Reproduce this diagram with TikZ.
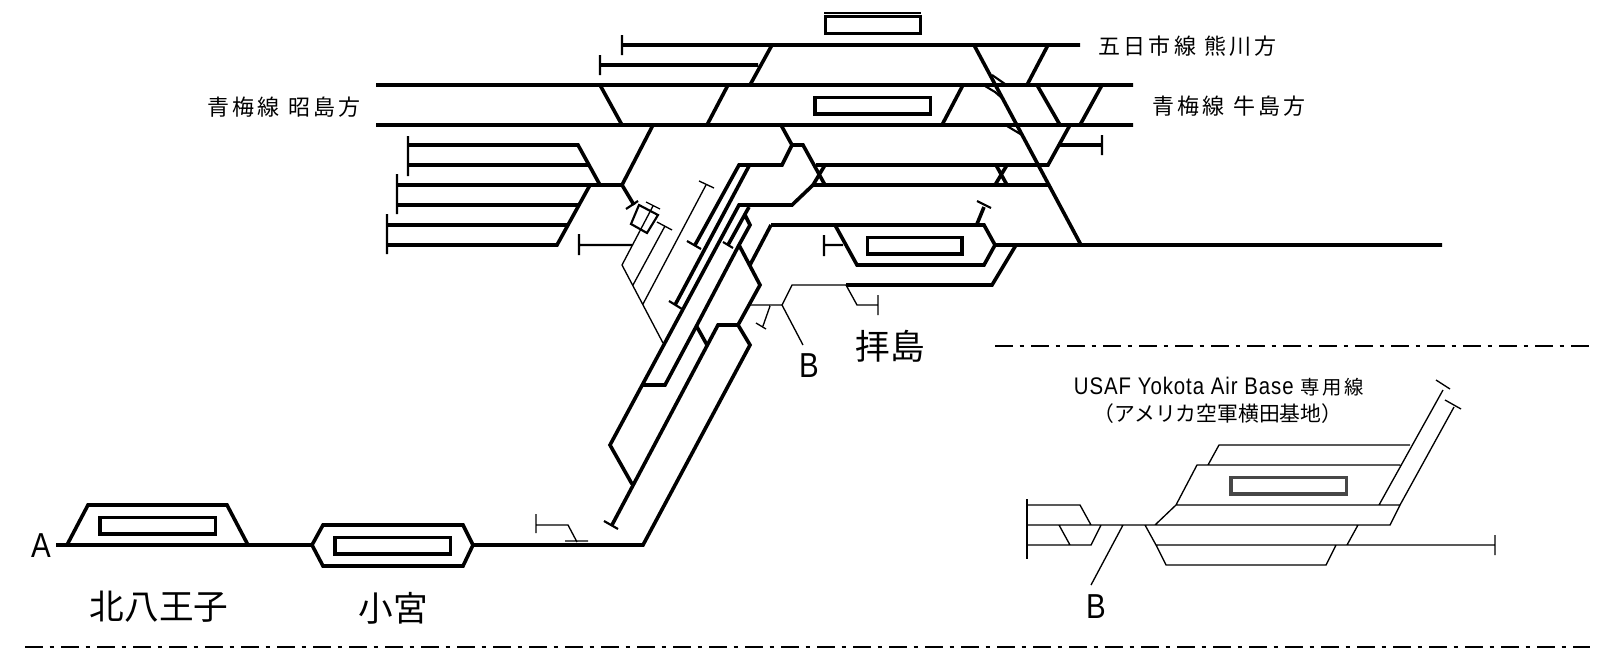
\documentclass[tikz,border=0pt]{standalone}
\usepackage{fontspec}
\setmainfont{Noto Sans CJK JP}
\newfontfamily\spacedfont[LetterSpace=15]{Noto Sans CJK JP}
\newfontfamily\narrowfont[FakeStretch=0.85]{Liberation Sans}
\newfontfamily\basefont[FakeStretch=0.85, LetterSpace=4]{Liberation Sans}

\tikzset{
  track/.style={line width=2.7pt},
  spur/.style={line width=1.6pt},
  wire/.style={line width=1pt},
  stationbox/.style={draw, line width=2.5pt, inner sep=0pt, minimum height=12.5pt, minimum width=86.5pt},
  shortbox/.style={stationbox, minimum width=71pt},
  divider/.style={line width=1.4pt, dash pattern=on 13.5pt off 5pt on 3.5pt off 5pt},
  placename/.style={font=\fontsize{26}{26}\selectfont, inner sep=0pt},
  linename/.style={font=\spacedfont\fontsize{16.5}{16.5}\selectfont, inner sep=0pt},
  letterlabel/.style={font=\narrowfont\fontsize{26}{26}\selectfont, inner sep=0pt}
}

\begin{document}
\begin{tikzpicture}[x=0.75pt, y=-0.75pt]
  \useasboundingbox (0,0) rectangle (1600,653);

  \node[shortbox, name=kumagawa] at (873,25) {};
  \node[shortbox, name=haijima] at (914.5,245.5) {};
  \node[stationbox, name=kitahachioji] at (157.5,525.5) {};
  \node[stationbox, name=komiya] at (392.5,545.5) {};
  \node[stationbox, name=ome] at (872.5,105.5) {};
  \node[stationbox, draw=black!72, name=yokota] at (1288.5,485.5) {};

  \draw[wire] (824,13) -- (921,13);

  \draw[track]
    (622,45) -- (1080,45)
    (600,65) -- (758,65)
    (376,85) -- (1133,85)
    (376,125) -- (1133,125)
    (772,45) -- (750,85)
    (600,85) -- (622,125)
    (728,85) -- (707,125)
    (653,125) -- (622,185) -- (397,185)
    (622,185) -- (634,205)
    (408,145) -- (578,145) -- (600,185)
    (408,165) -- (588,165)
    (397,205) -- (578,205)
    (387,225) -- (567,225)
    (387,245) -- (557,245) -- (590,185);

  \draw[track]
    (781,125) -- (792,145) -- (803,145) -- (825,185)
    (792,145) -- (782,165) -- (739,165) -- (695,245)
    (749,166) -- (675,305)
    (816,165) -- (1048,165) -- (1070,125)
    (825,165) -- (813,185) -- (792,205) -- (739,205) -- (610,445) -- (632,484)
    (813,185) -- (1048,185)
    (996,165) -- (1007,185)
    (1007,165) -- (995,185)
    (974,45) -- (1081,245)
    (1048,45) -- (1027,85)
    (1037,85) -- (1060,125)
    (1102,85) -- (1080,125)
    (963,85) -- (942,125)
    (1060,145) -- (1102,145)
    (749,207) -- (728,245)
    (745,215) -- (750,225) -- (739,245) -- (697,325) -- (665,385) -- (643,385)
    (697,327) -- (707,345)
    (739,245) -- (760,285) -- (738,325) -- (718,325) -- (612,525)
    (738,325) -- (750,345) -- (643,545) -- (473,545)
    (312,545) -- (56,545)
    (771,225) -- (750,265)
    (771,225) -- (984,225) -- (995,245) -- (984,265) -- (857,265) -- (835,225)
    (995,245) -- (1442,245)
    (1016,245) -- (992,285) -- (846,285)
    (67,545) -- (88,505) -- (227,505) -- (248,545)
    (312,545) -- (323,525) -- (463,525) -- (473,545) -- (463,566) -- (323,566) -- cycle
    (977,224) -- (984,207);

  \draw[spur]
    (992,75) -- (1005,84)
    (985,86) -- (995,92) -- (1002,98)
    (1007,126) -- (1022,135)
    (622,35) -- (622,55)
    (600,55) -- (600,75)
    (408,136) -- (408,176)
    (397,174) -- (397,214)
    (387,214) -- (387,254)
    (1102,135) -- (1102,155)
    (977,201) -- (991,208)
    (626,209) -- (638,201)
    (687,241) -- (701,249)
    (669,301) -- (682,309)
    (723,242) -- (733,248)
    (604,521) -- (618,529)
    (824,245) -- (843,245)
    (824,235) -- (824,256)
    (579,234) -- (579,255)
    (579,245) -- (632,245)
    (631,224) -- (639,205) -- (658,215) -- (647,233) -- cycle;

  \draw[wire]
    (646,202) -- (660,209)
    (653,206) -- (622,265) -- (663,343)
    (657,222) -- (672,230)
    (665,226) -- (633,285)
    (699,181) -- (714,188)
    (706,185) -- (643,304)
    (846,285) -- (792,285) -- (782,305) -- (803,345)
    (782,305) -- (750,305)
    (770,306) -- (763,326)
    (756,323) -- (766,329)
    (846,285) -- (857,305) -- (878,305)
    (878,295) -- (878,315)
    (536,514) -- (536,533)
    (536,525) -- (568,525) -- (577,542)
    (565,541) -- (588,541);

  \draw[wire]
    (1027,505) -- (1080,505) -- (1091,525)
    (1027,525) -- (1390,525) -- (1400,505) -- (1454,407)
    (1445,400) -- (1461,409)
    (1027,545) -- (1091,545) -- (1101,525)
    (1059,525) -- (1070,545)
    (1123,525) -- (1091,585)
    (1155,525) -- (1176,505) -- (1400,505)
    (1176,505) -- (1197,465) -- (1400,465)
    (1208,465) -- (1219,445) -- (1410,445)
    (1379,505) -- (1443,390)
    (1436,380) -- (1450,389)
    (1145,525) -- (1156,545) -- (1166,565) -- (1326,565) -- (1336,545)
    (1156,545) -- (1495,545)
    (1347,545) -- (1358,525)
    (1495,535) -- (1495,555);
  \draw[spur, line width=1.2pt] (1027,499) -- (1027,559);

  \draw[divider] (995,346) -- (1590,346);
  \draw[divider] (25,647) -- (1590,647);

  \node[linename, anchor=west, name=itsukaichi] at (1098,46) {五日市線 熊川方};
  \node[linename, anchor=west, name=ushijima] at (1152,106) {青梅線 牛島方};
  \node[linename, anchor=east, name=akishima] at (361,107) {青梅線 昭島方};
  \node[placename, name=kitahachiojilabel] at (159,607) {北八王子};
  \node[placename, name=komiyalabel] at (393.5,608) {小宮};
  \node[placename, name=haijimalabel] at (890,346) {拝島};
  \node[letterlabel, name=markA] at (41,546) {A};
  \node[letterlabel, name=markB] at (809,366) {B};
  \node[letterlabel, name=markBB] at (1096,607) {B};
  \node[inner sep=0pt, name=airbase] at (1219,387)
    {\basefont\fontsize{18}{18}\selectfont USAF Yokota Air Base \spacedfont\fontsize{14.5}{14.5}\selectfont 専用線};
  \node[inner sep=0pt, font=\fontsize{15.6}{15.6}\selectfont, name=airbasejp] at (1218,414) {（アメリカ空軍横田基地）};
\end{tikzpicture}
\end{document}
